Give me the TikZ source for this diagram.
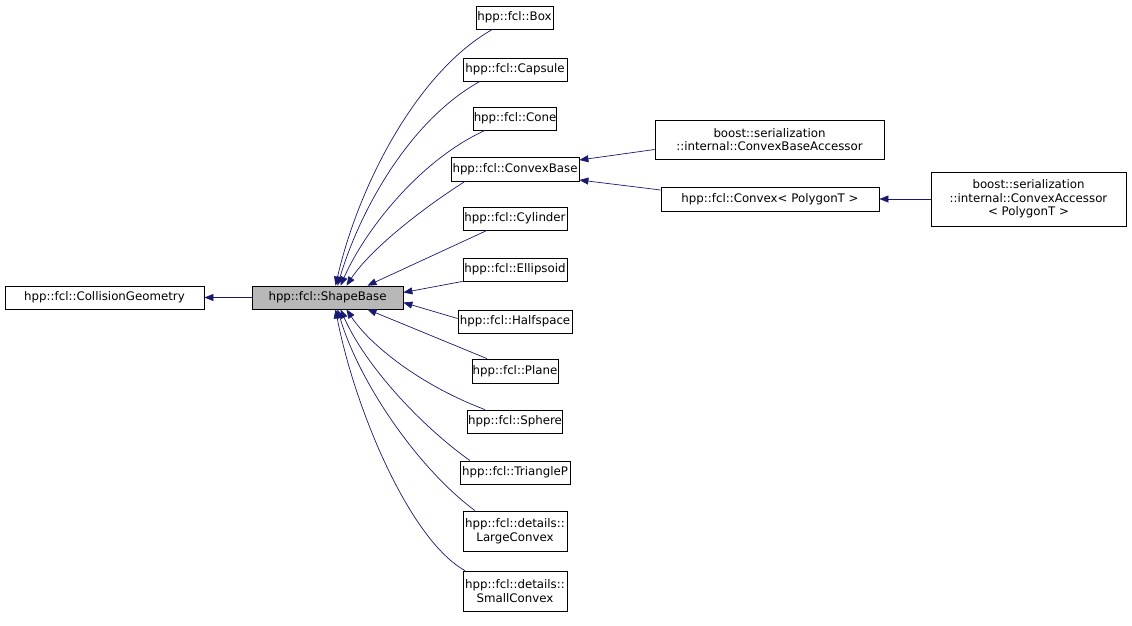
\documentclass[tikz,border=0pt]{standalone}
\usepackage{fontspec}
\setmainfont{DejaVu Sans}
\usetikzlibrary{arrows.meta}
\definecolor{navy}{RGB}{25,25,112}
\begin{document}
\begin{tikzpicture}[x=1pt,y=-1pt,
  bx/.style={draw=black,fill=white,line width=0.8pt,inner sep=0.5pt,align=center,font=\fontsize{11.8}{13.5}\selectfont,minimum height=23pt},
  e/.style={draw=navy,line width=0.7pt,{Triangle[length=9pt,width=7pt,fill=navy]}-}]
\useasboundingbox (0,0) rectangle (1132,625);
\node[bx,minimum width=199pt] (cg) at (104.5,297.5) {hpp::fcl::CollisionGeometry};
\node[bx,minimum width=151pt,fill=black!28] (sb) at (327.5,297.5) {hpp::fcl::ShapeBase};
\node[bx,minimum width=77pt] (box) at (514.5,17.5) {hpp::fcl::Box};
\node[bx,minimum width=104pt] (cap) at (515,69.5) {hpp::fcl::Capsule};
\node[bx,minimum width=80pt] (cone) at (515,118.5) {hpp::fcl::Cone};
\node[bx,minimum width=128pt,minimum height=24pt] (cb) at (515,169) {hpp::fcl::ConvexBase};
\node[bx,minimum width=104pt] (cyl) at (515,218.5) {hpp::fcl::Cylinder};
\node[bx,minimum width=104pt] (ell) at (515,269.5) {hpp::fcl::Ellipsoid};
\node[bx,minimum width=114pt] (half) at (515,321.5) {hpp::fcl::Halfspace};
\node[bx,minimum width=86pt,minimum height=24pt] (plane) at (515,371) {hpp::fcl::Plane};
\node[bx,minimum width=94pt] (sph) at (515,421.5) {hpp::fcl::Sphere};
\node[bx,minimum width=110pt] (tri) at (515,472.5) {hpp::fcl::TriangleP};
\node[bx,minimum width=104pt,minimum height=40pt] (lc) at (515,531) {hpp::fcl::details::\\LargeConvex};
\node[bx,minimum width=104pt,minimum height=40pt] (sc) at (515,591) {hpp::fcl::details::\\SmallConvex};
\node[bx,minimum width=229pt,minimum height=39pt] (cba) at (769.5,139.5) {boost::serialization\\::internal::ConvexBaseAccessor};
\node[bx,minimum width=218pt,minimum height=24pt] (cvx) at (770,199) {hpp::fcl::Convex\textless{} PolygonT \textgreater};
\node[bx,minimum width=195pt,minimum height=54pt] (ca) at (1028.5,199) {boost::serialization\\::internal::ConvexAccessor\\\textless{} PolygonT \textgreater};

\draw[e] (cg.east) -- (sb.west);
\draw[e] ([shift={(8,0)}]sb.north) .. controls (360,180) and (420,70) .. ([shift={(-22,0)}]box.south);
\draw[e] ([shift={(10,0)}]sb.north) .. controls (360,210) and (410,120) .. ([shift={(-35,0)}]cap.south);
\draw[e] ([shift={(13,0)}]sb.north) .. controls (365,230) and (420,160) .. ([shift={(-30,0)}]cone.south);
\draw[e] ([shift={(19,0)}]sb.north) .. controls (370,250) and (420,210) .. ([shift={(-50,0)}]cb.south);
\draw[e] ([shift={(40,0)}]sb.north) -- ([shift={(-28,0)}]cyl.south);
\draw[e] ([shift={(0,-5)}]sb.east) -- (ell.south west);
\draw[e] ([shift={(0,5)}]sb.east) -- ([shift={(0,-3)}]half.west);
\draw[e] ([shift={(40,0)}]sb.south) -- ([shift={(-28,0)}]plane.north);
\draw[e] ([shift={(19,0)}]sb.south) .. controls (370,345) and (420,385) .. ([shift={(-30,0)}]sph.north);
\draw[e] ([shift={(13,0)}]sb.south) .. controls (365,365) and (420,425) .. ([shift={(-45,0)}]tri.north);
\draw[e] ([shift={(10,0)}]sb.south) .. controls (360,385) and (420,470) .. ([shift={(-40,0)}]lc.north);
\draw[e] ([shift={(8,0)}]sb.south) .. controls (355,410) and (410,540) .. ([shift={(-50,0)}]sc.north);
\draw[e] ([shift={(0,-9)}]cb.east) -- ([shift={(0,10)}]cba.west);
\draw[e] ([shift={(0,11)}]cb.east) -- ([shift={(0,-9)}]cvx.west);
\draw[e] (cvx.east) -- (ca.west);
\end{tikzpicture}
\end{document}
